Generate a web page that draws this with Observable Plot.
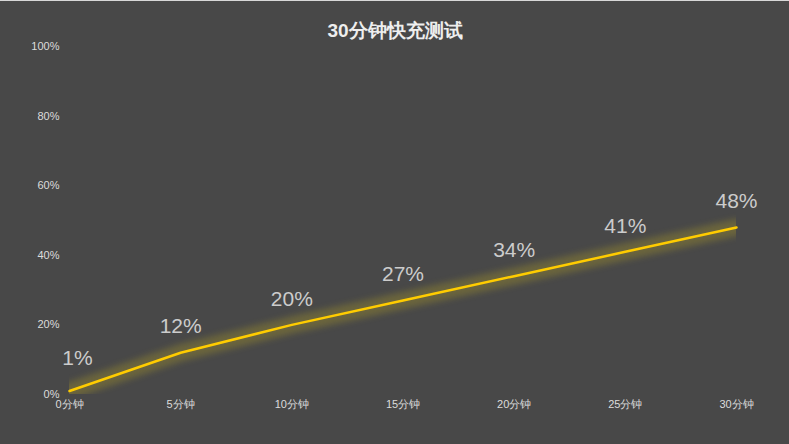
<!DOCTYPE html>
<html><head><meta charset="utf-8">
<script src="https://cdn.jsdelivr.net/npm/d3@7"></script>
<script src="https://cdn.jsdelivr.net/npm/@observablehq/plot@0.6"></script>
<style>
html,body{margin:0;padding:0;background:#484848;}
#wrap{width:789px;height:444px;box-sizing:border-box;border-top:1px solid #d8d8d8;overflow:hidden;}
svg{display:block;}
</style></head>
<body><div id="wrap"></div>
<script>
const title = "30分钟快充测试";
const minutes = [0, 5, 10, 15, 20, 25, 30];
const minuteLabels = ["0分钟", "5分钟", "10分钟", "15分钟", "20分钟", "25分钟", "30分钟"];
const charge = [1, 12, 20, 27, 34, 41, 48];
const yTicks = [0, 20, 40, 60, 80, 100];

const data = minutes.map((m, i) => ({m, v: charge[i]}));

const chart = Plot.plot({
  width: 789,
  height: 443,
  marginLeft: 69,
  marginRight: 53,
  marginTop: 45,
  marginBottom: 50,
  style: {background: "#484848", fontFamily: "Liberation Sans, Arial, sans-serif", overflow: "visible"},
  x: {type: "linear", domain: [0, 30]},
  y: {domain: [0, 100]},
  marks: [
    Plot.axisY(yTicks, {tickSize: 0, tickPadding: 10, tickFormat: d => d + "%", fill: "#dcdcdc", fontSize: 11, label: null}),
    Plot.axisX(minutes, {tickSize: 0, tickPadding: 6, tickFormat: d => minuteLabels[minutes.indexOf(d)], fill: "#dcdcdc", fontSize: 11, label: null}),
    Plot.line(data, {x: "m", y: "v", stroke: "#d8c018", strokeWidth: 17, strokeOpacity: 0.24, clip: true}),
    Plot.line(data, {x: "m", y: "v", stroke: "#ffcc00", strokeWidth: 2.5}),
    Plot.text(data.slice(0, 1), {x: "m", y: "v", text: d => d.v + "%", dy: -33, dx: 8, fill: "#cccccc", fontSize: 21}),
    Plot.text(data.slice(1), {x: "m", y: "v", text: d => d.v + "%", dy: -26, fill: "#cccccc", fontSize: 21}),
    Plot.text([title], {frameAnchor: "top", dy: -23, dx: -8, text: d => d, fill: "#eeeeee", fontSize: 19, fontWeight: "bold"})
  ]
});
document.getElementById("wrap").appendChild(chart);
const lines = chart.querySelectorAll('g[aria-label="line"]');
if (lines.length) lines[0].style.filter = "blur(3px)";
</script>
</body></html>
